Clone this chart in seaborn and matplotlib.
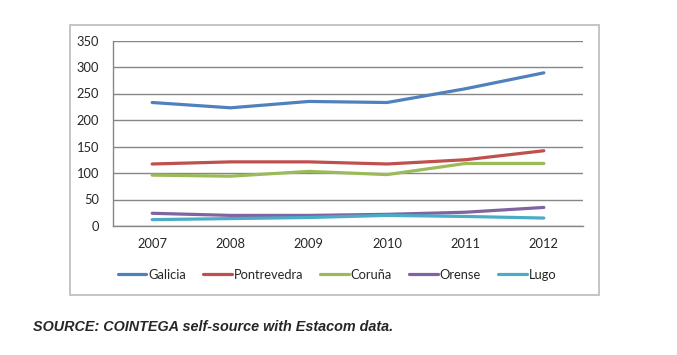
# -*- encoding: utf-8 -*-

import matplotlib
matplotlib.use('Agg')
import matplotlib.pyplot as plt
from matplotlib.patches import Rectangle
import numpy as np
import pandas as pd
import seaborn as sns

years = [2007, 2008, 2009, 2010, 2011, 2012]
regions = ['Galicia', 'Pontrevedra', 'Coruña', 'Orense', 'Lugo']
galicia = [233, 223, 235, 233, 259, 289]
pontrevedra = [117, 121, 121, 117, 125, 142]
coruna = [96, 94, 103, 97, 118, 118]
orense = [24, 20, 20, 22, 26, 35]
lugo = [12, 14, 16, 20, 18, 15]
yticks = [0, 50, 100, 150, 200, 250, 300, 350]
colors = ['#4F81BD', '#C0504D', '#9BBB59', '#8064A2', '#4BACC6']
source_text = 'SOURCE: COINTEGA self-source with Estacom data.'

series = [galicia, pontrevedra, coruna, orense, lugo]
df = pd.DataFrame({
    'year': years * len(regions),
    'value': [v for s in series for v in s],
    'region': [r for r in regions for _ in years],
})

sns.set_style('white')
plt.rcParams['font.family'] = ['Lato', 'DejaVu Sans']
FS = 9.3

fig = plt.figure(figsize=(6.77, 3.55), dpi=100)
ax = fig.add_axes([113 / 677, 1 - 226 / 355, 470 / 677, 185.5 / 355])

# chart frame like the spreadsheet export
fig.patches.append(Rectangle((70 / 677, 1 - 295 / 355), 529 / 677, 270 / 355,
                             transform=fig.transFigure, fill=False,
                             edgecolor='#bfbfbf', linewidth=1.3))

sns.lineplot(data=df, x='year', y='value', hue='region', palette=colors,
             hue_order=regions, linewidth=2.3, ax=ax, legend=False)

ax.set_xlim(2006.5, 2012.5)
ax.set_ylim(0, 350)
ax.set_yticks(yticks)
ax.set_yticklabels([str(t) for t in yticks], fontsize=FS)
ax.set_xticks(years)
ax.set_xticklabels([str(y) for y in years], fontsize=FS)
ax.set_xticks(np.arange(2006.5, 2013, 1), minor=True)
ax.tick_params(axis='x', which='major', length=0, pad=9)
ax.tick_params(axis='x', which='minor', length=5, color='#868686', width=1, direction='out')
ax.tick_params(axis='y', length=4, color='#868686', width=1, direction='out', pad=6)
ax.grid(axis='y', color='#868686', linewidth=1)
ax.set_axisbelow(True)
for side in ['top', 'right']:
    ax.spines[side].set_visible(False)
for side in ['left', 'bottom']:
    ax.spines[side].set_color('#868686')
    ax.spines[side].set_linewidth(1)
ax.set_xlabel('')
ax.set_ylabel('')

handles = [plt.Line2D([], [], color=c, linewidth=2.3) for c in colors]
fig.legend(handles, regions, loc='center', bbox_to_anchor=(337 / 677, 1 - 275 / 355),
           ncol=5, frameon=False, fontsize=FS, handlelength=2.2, handletextpad=0.15,
           columnspacing=1.35)

fig.text(33 / 677, 1 - 327 / 355, source_text, fontsize=10.4, fontweight='bold',
         fontstyle='italic', family=['Liberation Sans', 'DejaVu Sans'], va='center')

fig.savefig('out.png', dpi=100)
